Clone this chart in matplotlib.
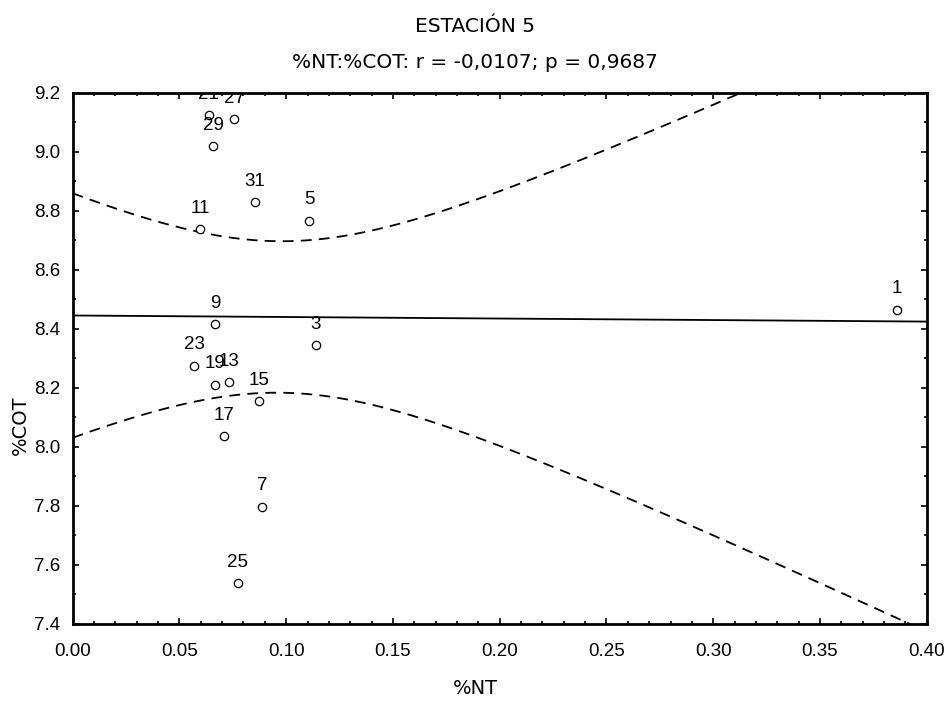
import numpy as np
import matplotlib
matplotlib.use("Agg")
import matplotlib.pyplot as plt
from matplotlib.ticker import MultipleLocator, FormatStrFormatter

# Data
labels = ["1", "3", "5", "7", "9", "11", "13", "15", "17", "19", "21", "23", "25", "27", "29", "31"]
nt = [0.386, 0.1138, 0.1108, 0.0888, 0.0667, 0.0596, 0.0734, 0.0873, 0.0707, 0.0667,
      0.0638, 0.0568, 0.0773, 0.0756, 0.0657, 0.0852]
cot = [8.465, 8.345, 8.766, 7.798, 8.415, 8.738, 8.219, 8.156, 8.036, 8.211,
       9.124, 8.275, 7.538, 9.110, 9.019, 8.829]

title = "ESTACIÓN 5"
subtitle = "%NT:%COT: r = -0,0107; p = 0,9687"
xlabel = "%NT"
ylabel = "%COT"

x = np.array(nt)
y = np.array(cot)
n = len(x)
slope, intercept = np.polyfit(x, y, 1)
resid = y - (intercept + slope * x)
s = np.sqrt(np.sum(resid ** 2) / (n - 2))
xm = x.mean()
sxx = np.sum((x - xm) ** 2)
t = 2.1448  # t(0.975, 14)
xs = np.linspace(0.0, 0.4, 400)
yfit = intercept + slope * xs
half = t * s * np.sqrt(1.0 / n + (xs - xm) ** 2 / sxx)

plt.rcParams['font.family'] = ['Liberation Sans', 'DejaVu Sans']

fig = plt.figure(figsize=(9.5, 7.03), dpi=100)
ax = fig.add_axes([0.0765, 0.1124, 0.899, 0.7557])

ax.plot(xs, yfit, color='black', lw=1.3)
ax.plot(xs, yfit + half, color='black', lw=1.3, ls=(0, (6, 4)))
ax.plot(xs, yfit - half, color='black', lw=1.3, ls=(0, (6, 4)))
ax.plot(x, y, ls='none', marker='o', mfc='white', mec='black', mew=0.9, ms=6, zorder=3)
for lab, xi, yi in zip(labels, x, y):
    ann = ax.annotate(lab, (xi, yi), xytext=(0, 15), textcoords='offset points',
                      ha='center', va='center', fontsize=13.5)
    ann.set_clip_on(True)
    ann.set_clip_path(ax.patch)

ax.set_xlim(0.0, 0.4)
ax.set_ylim(7.4, 9.2)
ax.xaxis.set_major_locator(MultipleLocator(0.05))
ax.xaxis.set_minor_locator(MultipleLocator(0.01))
ax.yaxis.set_major_locator(MultipleLocator(0.2))
ax.yaxis.set_minor_locator(MultipleLocator(0.1))
ax.xaxis.set_major_formatter(FormatStrFormatter('%.2f'))
ax.yaxis.set_major_formatter(FormatStrFormatter('%.1f'))
ax.tick_params(which='both', direction='in', top=True, right=True, labelsize=13.5, width=1.2)
ax.tick_params(which='major', length=4)
ax.tick_params(which='minor', length=2.5)
ax.tick_params(axis='x', which='major', pad=14)
ax.tick_params(axis='y', which='major', pad=9)
for sp in ax.spines.values():
    sp.set_linewidth(2)

fig.text(0.5, 1 - 27 / 703, title, ha='center', va='center', fontsize=14.5, family='DejaVu Sans')
fig.text(0.5, 1 - 62 / 703, subtitle, ha='center', va='center', fontsize=14.5, family='DejaVu Sans')
fig.text(0.5, 1 - 689 / 703, xlabel, ha='center', va='center', fontsize=14, family='DejaVu Sans')
fig.text(20 / 950, 1 - 425 / 703, ylabel, ha='center', va='center', rotation=90, fontsize=14, family='DejaVu Sans')

fig.savefig("out.png", dpi=100)
